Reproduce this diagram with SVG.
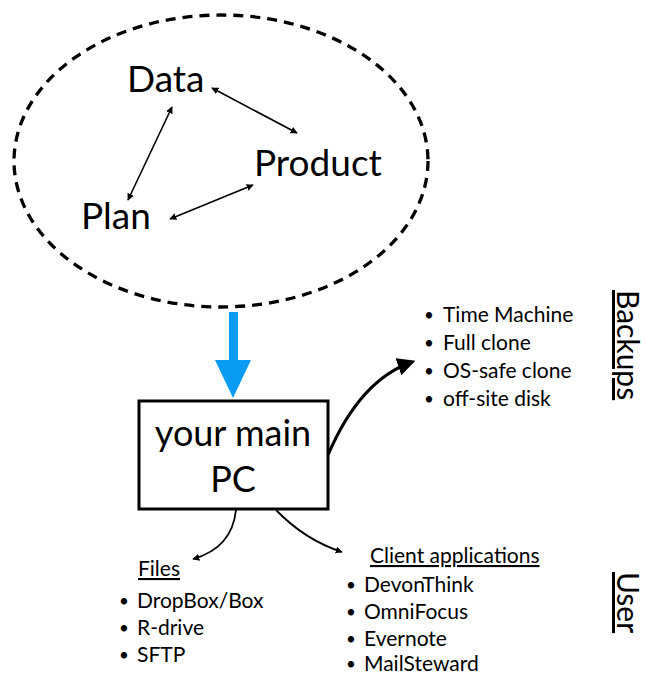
<svg xmlns="http://www.w3.org/2000/svg" width="647" height="676" viewBox="0 0 647 676">
<style>
text{font-family:Lato,"Open Sans","DejaVu Sans",sans-serif;fill:#000}
.big{font-size:37px}
.box{font-size:36px}
.li{font-size:21px}
.bu{font-size:17px}
.side{font-size:30px}
.thin{stroke:#000;stroke-width:1.6;fill:none}
.thick{stroke:#000;stroke-width:3;fill:none}
</style>
<defs>
<marker id="ah" viewBox="0 0 10 10" refX="9" refY="5" markerWidth="7" markerHeight="7" markerUnits="userSpaceOnUse" orient="auto-start-reverse"><path d="M0,0 L10,5 L0,10 z" fill="#000"/></marker>
<marker id="ahb" viewBox="0 0 10 10" refX="8" refY="5" markerWidth="6" markerHeight="6" orient="auto"><path d="M0,0 L10,5 L0,10 z" fill="#000"/></marker>
</defs>
<g id="cycle">
<ellipse cx="221" cy="161" rx="207" ry="146" fill="none" stroke="#000" stroke-width="3.3" stroke-dasharray="10,7"/>
</g>
<g id="data"><text class="big" x="127" y="92">Data</text></g>
<g id="product"><text class="big" x="254" y="176">Product</text></g>
<g id="plan"><text class="big" x="81" y="229">Plan</text></g>
<g id="pc">
<rect x="139" y="401" width="189" height="108" fill="#fff" stroke="#000" stroke-width="3"/>
<text class="box" x="233" y="446" text-anchor="middle">your main</text>
<text class="box" x="233" y="492" text-anchor="middle">PC</text>
</g>
<g id="backups">
<text class="bu" x="424" y="321">•</text><text class="li" x="443" y="322">Time Machine</text>
<text class="bu" x="424" y="349">•</text><text class="li" x="443" y="350">Full clone</text>
<text class="bu" x="424" y="377">•</text><text class="li" x="443" y="378">OS-safe clone</text>
<text class="bu" x="424" y="405">•</text><text class="li" x="443" y="406">off-site disk</text>
</g>
<g id="backups-label"><text class="side" transform="translate(617,290) rotate(90)" text-decoration="underline">Backups</text></g>
<g id="files">
<text class="li" x="138" y="576" text-decoration="underline">Files</text>
<text class="bu" x="119" y="607">•</text><text class="li" x="137" y="608">DropBox/Box</text>
<text class="bu" x="119" y="634">•</text><text class="li" x="137" y="635">R-drive</text>
<text class="bu" x="119" y="661">•</text><text class="li" x="137" y="662">SFTP</text>
</g>
<g id="clients">
<text class="li" x="370" y="563" text-decoration="underline">Client applications</text>
<text class="bu" x="346" y="591">•</text><text class="li" x="364" y="592">DevonThink</text>
<text class="bu" x="346" y="618">•</text><text class="li" x="364" y="619">OmniFocus</text>
<text class="bu" x="346" y="645">•</text><text class="li" x="364" y="646">Evernote</text>
<text class="bu" x="346" y="670">•</text><text class="li" x="364" y="671">MailSteward</text>
</g>
<g id="user-label"><text class="side" transform="translate(617,572) rotate(90)" text-decoration="underline">User</text></g>
<g id="connectors">
<line class="thin" x1="212" y1="88" x2="297" y2="133" marker-start="url(#ah)" marker-end="url(#ah)"/>
<line class="thin" x1="172" y1="107" x2="128" y2="200" marker-start="url(#ah)" marker-end="url(#ah)"/>
<line class="thin" x1="170" y1="219" x2="253" y2="185" marker-start="url(#ah)" marker-end="url(#ah)"/>
<path d="M229,312 H238 V360 H251 L233,398 L215,360 H229 Z" fill="#0A9BF5"/>
<path class="thick" d="M328,455 Q360,380 412,362" marker-end="url(#ahb)"/>
<path class="thin" d="M236,510 Q232,548 193,559" marker-end="url(#ah)" style="stroke-width:1.8"/>
<path class="thin" d="M276,510 Q305,540 342,552" marker-end="url(#ah)" style="stroke-width:1.8"/>
</g>
</svg>
